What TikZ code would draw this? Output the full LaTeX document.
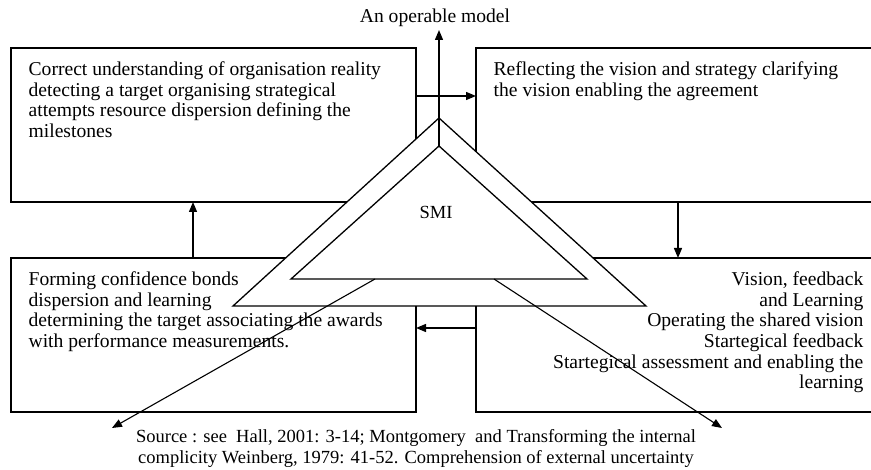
\documentclass[tikz,border=0pt]{standalone}
\usepackage{fontspec}
\setmainfont{Liberation Serif}
\usetikzlibrary{arrows.meta}
\begin{document}
\begin{tikzpicture}[x=1pt,y=-1pt,line width=1.3pt,
  box/.style={draw,inner sep=0pt,outer sep=0pt,anchor=north west,minimum height=154pt},
  txt/.style={inner sep=0pt,font=\fontsize{19.6}{20.7}\selectfont},
  srctxt/.style={inner sep=0pt,font=\fontsize{18.5}{20.7}\selectfont},
  arr/.style={-{Triangle[length=10pt,width=8pt]}},
  tri/.style={draw,fill=white,line join=miter}]
\useasboundingbox (0,0) rectangle (871,470);
% boxes
\node[box,minimum width=405pt] (tl) at (11,48) {};
\node[box,minimum width=420pt] (tr) at (476,48) {};
\node[box,minimum width=405pt] (bl) at (11,258) {};
\node[box,minimum width=420pt] (br) at (476,258) {};
% texts
\node[txt,anchor=north west,align=left] (t1) at (28,61) {Correct understanding of organisation reality\\detecting a target organising strategical\\attempts resource dispersion defining the\\milestones};
\node[txt,anchor=north west,align=left] (t2) at (493,61) {Reflecting the vision and strategy clarifying\\the vision enabling the agreement};
\node[txt,anchor=north west,align=left] (t3) at (28,271) {Forming confidence bonds\\dispersion and learning\\determining the target associating the awards\\with performance measurements.};
\node[txt,anchor=north east,align=right] (t4) at (864,271) {Vision, feedback\\and Learning\\Operating the shared vision\\Startegical feedback\\Startegical assessment and enabling the\\learning};
% triangles
\coordinate (oA) at (439,118);
\coordinate (oL) at (233,306);
\coordinate (oR) at (646,306);
\coordinate (iA) at (439,146);
\coordinate (iL) at (291,279);
\coordinate (iR) at (587,279);
\draw[tri] (oA) -- (oL) -- (oR) -- cycle;
\draw[tri] (iA) -- (iL) -- (iR) -- cycle;
\node[srctxt] (smi) at (436,212) {SMI};
% top label
\node[txt,anchor=north] (om) at (435,8) {An operable model};
\coordinate (omtip) at (439,30);
\draw[arr] (iA) -- (omtip);
% connectors between boxes
\draw[arr] (tl.east |- 0,96) -- (tr.west |- 0,96);
\draw[arr] (tr.south -| 678,0) -- (br.north -| 678,0);
\draw[arr] (br.west |- 0,328) -- (bl.east |- 0,328);
\draw[arr] (bl.north -| 193,0) -- (tl.south -| 193,0);
% diagonals
\coordinate (dR0) at (494,279);
\coordinate (dR1) at (722,428);
\coordinate (dL0) at (375,279);
\coordinate (dL1) at (112,428);
\draw[arr,line width=1.1pt] (dR0) -- (dR1);
\draw[arr,line width=1.1pt] (dL0) -- (dL1);
% source
\node[srctxt,anchor=north,align=center] (src) at (416,429) {Source : see\ \ Hall, 2001: 3-14; Montgomery\ \ and Transforming the internal\\complicity Weinberg, 1979: 41-52. Comprehension of external uncertainty};
\end{tikzpicture}
\end{document}
